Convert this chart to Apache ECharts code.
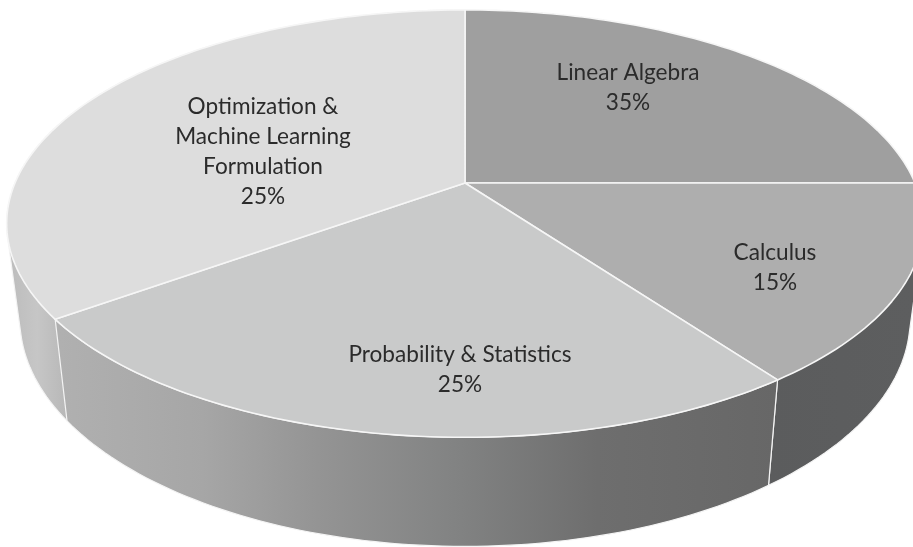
<!DOCTYPE html>
<html>
<head>
<meta charset="utf-8">
<style>html,body{margin:0;padding:0;background:#fff}#c{width:913px;height:547px}</style>
<script src="https://cdn.jsdelivr.net/npm/echarts@6/dist/echarts.min.js"></script>
</head>
<body>
<div id="c"></div>
<script>
// Data
const categories = ['Linear Algebra', 'Calculus', 'Probability & Statistics', 'Optimization &\nMachine Learning\nFormulation'];
// printed percentages
const labelPercents = [35, 15, 25, 25];
// wedge sizes as actually drawn in the picture (they differ from the printed percentages)
const drawnShares = [25, 15, 25, 35];

// Styling and layout
const topColors = ['#9f9f9f', '#aeaeae', '#c9caca', '#dddddd'];
const stops = list => list.map(([offset, color]) => ({ offset, color }));
const sideStops = [
  stops([[0, '#5c5d5e'], [1, '#5c5d5e']]),
  stops([[0, '#5b5c5d'], [1, '#5d5e5f']]),
  stops([[0, '#b0b0b0'], [0.2, '#a6a6a6'], [0.36, '#949494'], [0.56, '#818282'], [0.75, '#6e6e6e'], [1, '#676767']]),
  stops([[0, '#bcbcbc'], [0.5, '#c6c6c6'], [1, '#b8b8b8']])
];
const sideSpans = [[776, 913], [769, 913], [60, 776], [8, 66]];
const sideHull = [false, true, false, true];
const sideOrder = [0, 1, 3, 2];
const labelAnchors = [[628, 88], [775, 268], [460, 370], [263, 152]];
const topFace = { cx: 465, cy: 183, rx: 450, ry: 206, k: 0.19 };
const baseFace = { cx: 465, cy: 276, rx: 437, ry: 219, k: 0.19 };
const total = drawnShares.reduce((a, b) => a + b, 0);
let run = 0;
const wedges = drawnShares.map((s, i) => { const w = [i, run, run + s]; run += s; return w; });

function project(face, share) {
  const t = share / total * 2 * Math.PI;
  const u = Math.sin(t), v = -Math.cos(t);
  const w = 1 / (1 - face.k * v);
  return [face.cx + face.rx * u * w, face.cy + face.ry * v * w];
}
function arc(face, a, b) {
  const n = Math.max(8, Math.round(Math.abs(b - a) * 3)), out = [];
  for (let j = 0; j <= n; j++) out.push(project(face, a + (b - a) * j / n));
  return out;
}
// the extruded wall of a wedge that holds a silhouette point is the hull of its two arcs
function hull(points) {
  const p = points.slice().sort((m, n) => m[0] - n[0] || m[1] - n[1]);
  const cross = (o, a, b) => (a[0] - o[0]) * (b[1] - o[1]) - (a[1] - o[1]) * (b[0] - o[0]);
  const half = list => {
    const h = [];
    for (const q of list) {
      while (h.length > 1 && cross(h[h.length - 2], h[h.length - 1], q) <= 0) h.pop();
      h.push(q);
    }
    h.pop();
    return h;
  };
  return half(p).concat(half(p.slice().reverse()));
}

const chart = echarts.init(document.getElementById('c'), null, { renderer: 'canvas' });
const axis = (max, inverse) => ({ type: 'value', min: 0, max, inverse, show: false });
chart.setOption({
  animation: false,
  backgroundColor: '#ffffff',
  grid: { left: 0, right: 0, top: 0, bottom: 0 },
  xAxis: axis(913, false),
  yAxis: axis(547, true),
  series: [
    {
      type: 'custom', coordinateSystem: 'cartesian2d', silent: true, z: 1, data: wedges,
      renderItem(params, api) {
        const i = api.value(0), a = api.value(1), b = api.value(2);
        const up = arc(topFace, a, b), down = arc(baseFace, b, a);
        const outline = sideHull[i] ? hull(up.concat(down)) : up.concat(down);
        const span = sideSpans[i];
        return {
          type: 'polygon', shape: { points: outline.map(p => api.coord(p)) }, z2: sideOrder[i],
          style: {
            fill: new echarts.graphic.LinearGradient(span[0], 0, span[1], 0, sideStops[i], true),
            stroke: i === 0 ? 'none' : '#f4f4f4', lineWidth: 1.2
          }
        };
      }
    },
    {
      type: 'custom', coordinateSystem: 'cartesian2d', silent: true, z: 2, data: wedges,
      renderItem(params, api) {
        const i = api.value(0), a = api.value(1), b = api.value(2);
        const pts = [[topFace.cx, topFace.cy]].concat(arc(topFace, a, b)).map(p => api.coord(p));
        return {
          type: 'polygon', shape: { points: pts },
          style: { fill: topColors[i], stroke: '#f6f6f6', lineWidth: 1.6, lineJoin: 'round' }
        };
      }
    },
    {
      type: 'custom', coordinateSystem: 'cartesian2d', silent: true, z: 3, data: wedges,
      renderItem(params, api) {
        const i = api.value(0), p = api.coord(labelAnchors[i]);
        return {
          type: 'text', x: p[0], y: p[1],
          style: {
            text: categories[i] + '\n' + labelPercents[i] + '%',
            fill: '#2b2b2b', font: '22.6px Lato', lineHeight: 30, align: 'center', verticalAlign: 'middle'
          }
        };
      }
    }
  ]
});
</script>
</body>
</html>
